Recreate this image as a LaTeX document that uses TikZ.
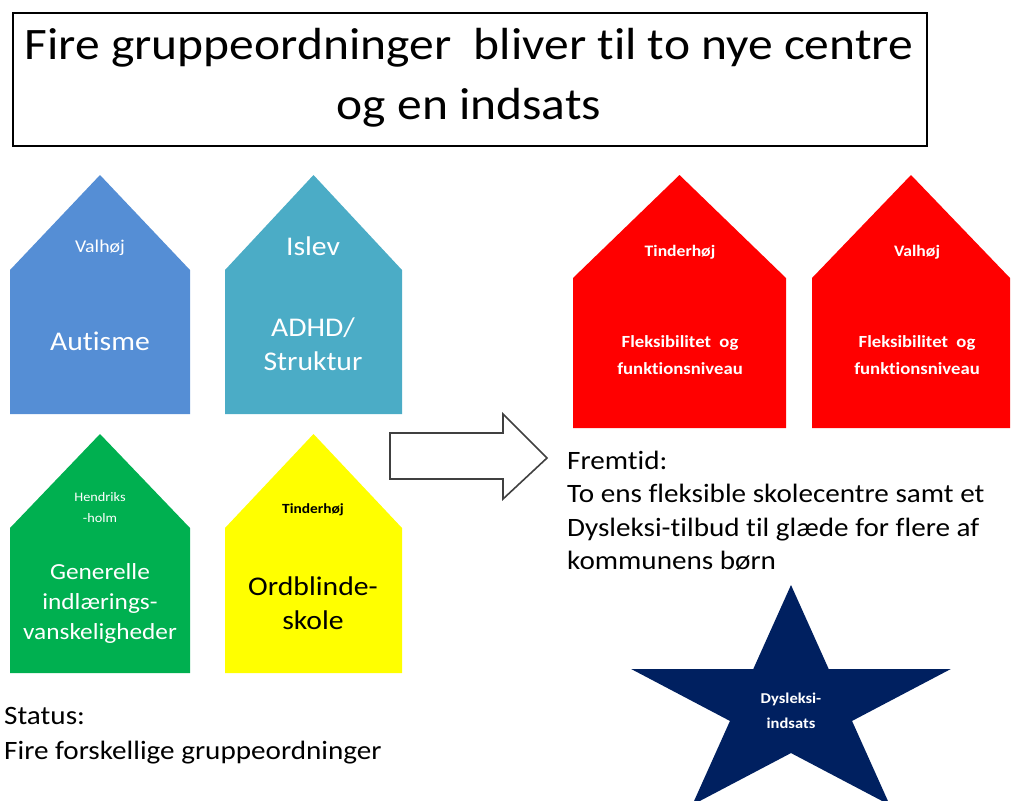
\documentclass[tikz,border=0pt]{standalone}
\usepackage{fontspec}
\setmainfont[FakeStretch=1.1,Ligatures=CommonOff]{Carlito}
\definecolor{hblue}{HTML}{558ED5}
\definecolor{hteal}{HTML}{4BACC6}
\definecolor{hgreen}{HTML}{00B050}
\definecolor{hyellow}{HTML}{FFFF00}
\definecolor{hred}{HTML}{FF0000}
\definecolor{hnavy}{HTML}{002060}
\newcommand\myhouse[6]{% x1, x2, apex y, eave y, bottom y, colour
  \fill[#6] (#1,#5) -- (#1,#4) -- ({(#1+#2)/2},#3) -- (#2,#4) -- (#2,#5) -- cycle;}
\newcommand\fs[2]{\fontsize{#1}{#2}\selectfont}
\begin{document}
\begin{tikzpicture}[x=1pt,y=-1pt,
  lbl/.style={align=center,inner sep=0pt},
  para/.style={align=left,anchor=north west,inner sep=0pt}]
\useasboundingbox (0,0) rectangle (1013,801);
% title
\node[draw=black,line width=1.6pt,minimum width=914pt,minimum height=133pt,anchor=north west,inner sep=0pt] (title) at (12,12) {};
\node[lbl,font=\fs{45}{60}] (titletext) at (469,78) {Fire gruppeordninger\ \ bliver til to nye centre\\og en indsats};
% houses
\myhouse{10}{190}{175}{270}{414}{hblue}
\myhouse{225}{402}{175}{270}{414}{hteal}
\myhouse{10}{190}{434}{528}{673}{hgreen}
\myhouse{225}{402}{434}{528}{673}{hyellow}
\myhouse{573}{786}{175}{278}{428}{hred}
\myhouse{812}{1010}{175}{278}{428}{hred}
% labels
\node[lbl,text=white,font=\fs{18}{18}] (b1) at (100,248) {Valhøj};
\node[lbl,text=white,font=\fs{27}{27}] (b2) at (100,341) {Autisme};
\node[lbl,text=white,font=\fs{27}{27}] (t1) at (313,246) {Islev};
\node[lbl,text=white,font=\fs{27}{34}] (t2) at (313,344) {ADHD/\\Struktur};
\node[lbl,text=white,font=\fs{13}{21}] (g1) at (100,508) {Hendriks\\-holm};
\node[lbl,text=white,font=\fs{23}{30}] (g2) at (100,603) {Generelle\\indlærings-\\vanskeligheder};
\node[lbl,text=black,font=\bfseries\fs{14}{14}] (y1) at (313,510) {Tinderhøj};
\node[lbl,text=black,font=\fs{27}{34}] (y2) at (313,603) {Ordblinde-\\skole};
\node[lbl,text=white,font=\bfseries\fs{16}{16}] (r1) at (680,252) {Tinderhøj};
\node[lbl,text=white,font=\bfseries\fs{17}{27}] (r2) at (680,355) {Fleksibilitet\ \ og\\funktionsniveau};
\node[lbl,text=white,font=\bfseries\fs{16}{16}] (s1) at (917,252) {Valhøj};
\node[lbl,text=white,font=\bfseries\fs{17}{27}] (s2) at (917,355) {Fleksibilitet\ \ og\\funktionsniveau};
% arrow
\draw[line width=1.6pt,draw=black!75,fill=white,line join=miter] (390,433) -- (503,433) -- (503,414) -- (547,458) -- (503,499) -- (503,479) -- (390,479) -- cycle;
% texts
\node[para,font=\fs{26.5}{33.3}] (future) at (567,451) {Fremtid:\\To ens fleksible skolecentre samt et\\Dysleksi-tilbud til glæde for flere af\\kommunens børn};
\node[para,font=\fs{26.5}{35}] (status) at (4,707) {Status:\\Fire forskellige gruppeordninger};
% star
\fill[hnavy] (791,585)
  \foreach \a in {126,162,198,234,270,306,342,18,54} {
    -- ({791+168*(mod(\a,72)==18?1:0.382)*cos(\a)},{706.6-121.6*(mod(\a,72)==18?1:0.382)*sin(\a)})
  } -- cycle;
\node[lbl,text=white,font=\bfseries\fs{15}{25}] (star) at (791,711) {Dysleksi-\\indsats};
\end{tikzpicture}
\end{document}
